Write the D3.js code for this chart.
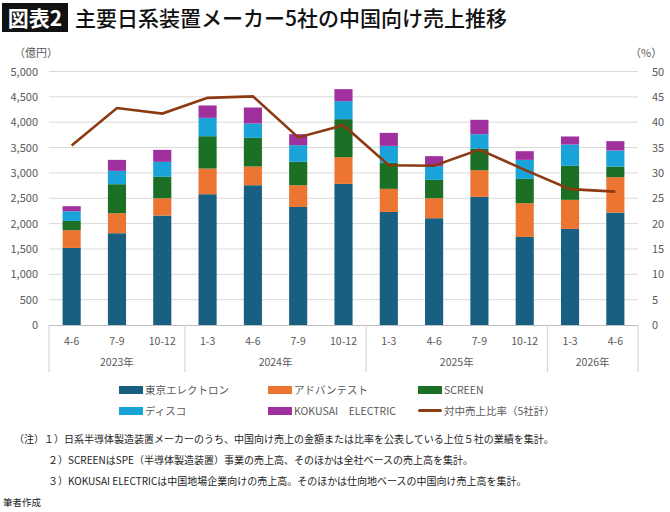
<!DOCTYPE html>
<html><head><meta charset="utf-8">
<script src="https://cdn.jsdelivr.net/npm/d3@7"></script>
<style>body{margin:0;background:#fff;font-family:"Noto Sans CJK JP",sans-serif}</style>
</head><body><svg id="c" width="670" height="512"></svg>
<script>
const quarters=["4-6","7-9","10-12","1-3","4-6","7-9","10-12","1-3","4-6","7-9","10-12","1-3","4-6"];
const years=[{label:"2023年",start:0,end:3},{label:"2024年",start:3,end:7},{label:"2025年",start:7,end:11},{label:"2026年",start:11,end:13}];
const seriesNames=["東京エレクトロン","アドバンテスト","SCREEN","ディスコ","KOKUSAI　ELECTRIC"];
const tel=[1520,1810,2158,2580,2757,2329,2783,2230,2106,2527,1737,1895,2217];
const adv=[350,394,342,506,369,428,527,455,394,526,665,573,698];
const scr=[183,573,422,638,565,461,750,513,362,421,480,671,211];
const dis=[191,263,296,362,283,329,355,335,270,290,375,421,315];
const kok=[99,217,237,244,316,217,237,257,198,283,171,158,185];
const ratio=[35.4,42.8,41.7,44.8,45.1,37.0,39.4,31.5,31.4,34.6,30.6,26.8,26.3];
const colors=["#185f82","#ec7531","#1b7025","#1aa3d8","#a1309f"];
const lineColor="#8b3a12";
const leftTicks=[0,500,1000,1500,2000,2500,3000,3500,4000,4500,5000];
const rightTicks=[0,5,10,15,20,25,30,35,40,45,50];

const svg=d3.select("#c");
const gray="#595959";
// title
svg.append("rect").attr("x",2).attr("y",3).attr("width",66).attr("height",29).attr("fill","#111");
svg.append("text").attr("x",35).attr("y",26).attr("text-anchor","middle").attr("fill","#fff").attr("font-size",21).attr("font-weight",700).text("図表2");
svg.append("text").attr("x",75).attr("y",26).attr("fill","#111").attr("font-size",21).attr("font-weight",500).text("主要日系装置メーカー5社の中国向け売上推移");

const x=d3.scaleBand().domain(d3.range(quarters.length)).range([49,638]).paddingInner(0.6).paddingOuter(0.3);
const y=d3.scaleLinear().domain([0,5000]).range([325,71.5]);
const y2=d3.scaleLinear().domain([0,50]).range([325,71.5]);

// grid
svg.append("g").selectAll("line").data(leftTicks.slice(1)).join("line")
 .attr("x1",49).attr("x2",638).attr("y1",d=>y(d)).attr("y2",d=>y(d)).attr("stroke","#d9d9d9");
const fs=11;
svg.append("g").selectAll("text").data(leftTicks).join("text").attr("x",38).attr("y",d=>y(d)+4)
 .attr("text-anchor","end").attr("font-size",fs).attr("fill",gray).text(d=>d3.format(",")(d));
svg.append("g").selectAll("text").data(rightTicks).join("text").attr("x",652).attr("y",d=>y2(d)+4)
 .attr("text-anchor","start").attr("font-size",fs).attr("fill",gray).text(d=>d);
svg.append("text").attr("x",14).attr("y",57).attr("font-size",fs).attr("fill",gray).text("（億円）");
svg.append("text").attr("x",630).attr("y",57).attr("font-size",fs).attr("fill",gray).text("（%）");

// stacked bars
const rows=quarters.map((q,i)=>({i,s0:tel[i],s1:adv[i],s2:scr[i],s3:dis[i],s4:kok[i]}));
const stack=d3.stack().keys(["s0","s1","s2","s3","s4"])(rows);
svg.append("g").selectAll("g").data(stack).join("g").attr("fill",(d,k)=>colors[k])
 .selectAll("rect").data(d=>d).join("rect")
 .attr("x",d=>x(d.data.i)).attr("width",x.bandwidth())
 .attr("y",d=>y(d[1])).attr("height",d=>y(d[0])-y(d[1]));

// axis
svg.append("line").attr("x1",49).attr("x2",638).attr("y1",325.5).attr("y2",325.5).attr("stroke","#bfbfbf");
const bounds=[0,3,7,11,13];
const step=x.step();
const bx=i=>49+(638-49)*i/13;
svg.append("g").selectAll("line").data(bounds).join("line").attr("x1",bx).attr("x2",bx)
 .attr("y1",325).attr("y2",372).attr("stroke","#d0d0d0");
svg.append("g").selectAll("text").data(quarters).join("text").attr("x",(d,i)=>x(i)+x.bandwidth()/2).attr("y",345)
 .attr("text-anchor","middle").attr("font-size",10.5).attr("fill",gray).text(d=>d);
svg.append("g").selectAll("text").data(years).join("text").attr("x",d=>(bx(d.start)+bx(d.end))/2).attr("y",366)
 .attr("text-anchor","middle").attr("font-size",10.5).attr("fill",gray).text(d=>d.label);

// line
svg.append("path").datum(ratio).attr("fill","none").attr("stroke",lineColor).attr("stroke-width",2.6)
 .attr("d",d3.line().x((d,i)=>x(i)+x.bandwidth()/2).y(d=>y2(d)));

// legend
const leg=seriesNames.map((n,k)=>({n,c:colors[k],line:false})).concat([{n:"対中売上比率（5社計）",c:lineColor,line:true}]);
const lx=[119,268,418], ly=[390,411];
const lg=svg.append("g").selectAll("g").data(leg).join("g").attr("transform",(d,k)=>`translate(${lx[k%3]},${ly[Math.floor(k/3)]})`);
lg.append("rect").attr("x",0).attr("y",d=>d.line?-2:-4).attr("width",24).attr("height",d=>d.line?3:8).attr("fill",d=>d.c).attr("rx",d=>d.line?1.5:0);
lg.append("text").attr("x",26).attr("y",4).attr("font-size",10.5).attr("fill",gray).text(d=>d.n);

// notes
const notes=[["（注）１）日系半導体製造装置メーカーのうち、中国向け売上の金額または比率を公表している上位５社の業績を集計。",14],
 ["２）SCREENはSPE（半導体製造装置）事業の売上高、そのほかは全社ベースの売上高を集計。",48],
 ["３）KOKUSAI ELECTRICは中国地場企業向けの売上高。そのほかは仕向地ベースの中国向け売上高を集計。",48]];
svg.append("g").selectAll("text").data(notes).join("text").attr("x",d=>d[1]).attr("y",(d,i)=>443+i*21)
 .attr("font-size",10).attr("fill","#222").text(d=>d[0]);
svg.append("text").attr("x",3).attr("y",506).attr("font-size",9.5).attr("fill","#222").text("筆者作成");
</script></body></html>
